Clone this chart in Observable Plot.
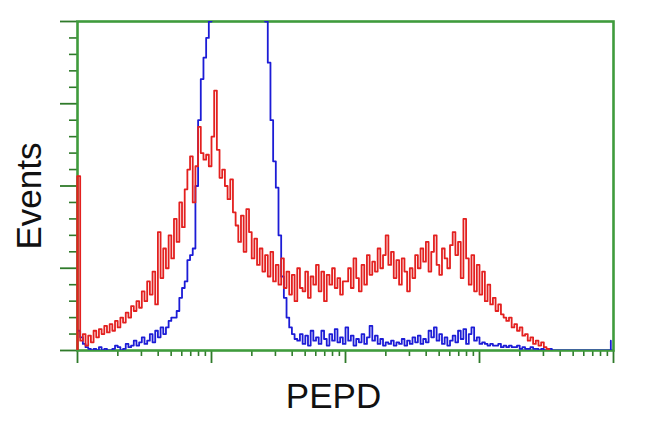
<!DOCTYPE html>
<html>
<head>
<meta charset="utf-8">
<script src="https://cdn.jsdelivr.net/npm/d3@7"></script>
<script src="https://cdn.jsdelivr.net/npm/@observablehq/plot@0.6"></script>
<style>
  html, body { margin: 0; padding: 0; background: #fff; }
  #chart { width: 650px; height: 432px; }
</style>
</head>
<body>
<div id="chart"></div>
<script>
// Histogram counts per channel (50 channels per decade, 4 decades)
const redCounts = [
  106, 6, 10, 3, 9, 5, 12, 8, 13, 10,
  15, 11, 16, 12, 18, 14, 20, 17, 23, 20,
  27, 24, 30, 26, 36, 30, 42, 34, 48, 28,
  72, 44, 62, 50, 70, 56, 80, 66, 90, 75,
  98, 110, 118, 90, 112, 136, 120, 116, 119, 112,
  130, 158, 122, 105, 110, 100, 92, 104, 84, 76,
  66, 82, 60, 86, 72, 56, 68, 52, 62, 48,
  58, 45, 60, 42, 52, 40, 56, 38, 48, 34,
  46, 30, 50, 38, 36, 48, 32, 45, 40, 52,
  36, 48, 30, 46, 40, 50, 38, 44, 34, 42,
  42, 50, 38, 56, 44, 36, 52, 40, 58, 46,
  54, 48, 62, 50, 58, 70, 52, 60, 44, 55,
  40, 56, 48, 36, 50, 44, 58, 50, 62, 54,
  66, 48, 60, 70, 52, 46, 62, 56, 50, 64,
  72, 58, 66, 44, 80, 56, 40, 58, 36, 52,
  34, 48, 30, 40, 28, 32, 24, 28, 22, 20,
  18, 20, 14, 16, 12, 14, 9, 10, 6, 8,
  4, 6, 3, 5, 2, 1, 0
];
const blueCounts = [
  12, 8, 4, 2, 1, 0, 1, 0, 2, 0,
  1, 0, 0, 1, 3, 2, 0, 1, 4, 2,
  3, 6, 3, 5, 8, 4, 6, 10, 5, 12,
  8, 14, 10, 14, 18, 20, 20, 24, 32, 38,
  42, 55, 58, 62, 100, 140, 165, 178, 190, 200,
  215, 235, 255, 270, 285, 295, 300, 305, 300, 295,
  290, 280, 270, 260, 250, 240, 230, 225, 215, 208,
  200, 175, 140, 115, 99, 70, 45, 32, 20, 14,
  10, 7, 6, 10, 4, 9, 3, 12, 6, 8,
  4, 12, 7, 3, 10, 6, 13, 5, 8, 4,
  14, 6, 9, 3, 7, 5, 10, 4, 8, 15,
  6, 9, 4, 7, 3, 5, 4, 6, 3, 5,
  4, 7, 3, 6, 4, 8, 5, 9, 4, 7,
  5, 12, 8, 14, 6, 10, 4, 8, 3, 6,
  9, 5, 12, 7, 13, 4, 10, 14, 6, 8,
  4, 5, 4, 3, 4, 3, 3, 4, 2, 3,
  2, 3, 2, 2, 3, 1, 2, 1, 1, 2,
  1, 1, 0, 1, 0, 0, 1, 0, 0, 0,
  0, 0, 0, 0, 0, 0, 0, 0, 0, 0,
  0, 0, 0, 0, 0, 0, 0, 0, 0, 6
];
const channelsPerDecade = 50;
const xMajorTicks = [1, 10, 100, 1000, 10000];
const xMinorTicks = [2,3,4,5,6,7,8,9, 20,30,40,50,60,70,80,90,
  200,300,400,500,600,700,800,900, 2000,3000,4000,5000,6000,7000,8000,9000];
const yMajorTicks = [0, 50, 100, 150, 200];
const yMinorTicks = [10,20,30,40, 60,70,80,90, 110,120,130,140, 160,170,180,190];
const xLabel = "PEPD";
const yLabel = "Events";

const RED = "#e3201f";
const BLUE = "#1c1cd6";
const GREEN = "#3f9b3c";
const TICK = "#2f7a2a";

const chX = (d, i) => Math.pow(10, i / channelsPerDecade);
const blank = () => "";

const chart = Plot.plot({
  width: 650,
  height: 432,
  marginLeft: 77,
  marginRight: 37,
  marginTop: 21,
  marginBottom: 82,
  x: {type: "log", domain: [1, 10000]},
  y: {domain: [0, 200]},
  style: {background: "#fff", fontFamily: "'Liberation Sans', Arial, sans-serif", color: "#111"},
  marks: [
    Plot.axisX(xMinorTicks, {tickSize: 6, tickFormat: blank, stroke: TICK, strokeWidth: 1.6, label: null}),
    Plot.axisX(xMajorTicks, {tickSize: 13, tickFormat: blank, stroke: TICK, strokeWidth: 1.8, label: null}),
    Plot.axisY(yMinorTicks, {tickSize: 8, tickFormat: blank, stroke: TICK, strokeWidth: 1.6, label: null}),
    Plot.axisY(yMajorTicks, {tickSize: 17, tickFormat: blank, stroke: TICK, strokeWidth: 1.8, label: null}),
    Plot.frame({stroke: GREEN, strokeWidth: 2.6}),
    Plot.line(blueCounts, {x: chX, y: d => d, curve: "step-after", stroke: BLUE, strokeWidth: 1.8, clip: true}),
    Plot.line(redCounts, {x: chX, y: d => d, curve: "step-after", stroke: RED, strokeWidth: 1.8, clip: true}),
    Plot.ruleX(redCounts.slice(0, 1), {x: 1, y1: 0, y2: d => d, stroke: RED, strokeWidth: 2.4}),
    Plot.text([yLabel], {frameAnchor: "left", dx: -37, dy: 10, rotate: -90, fontSize: 35, lineAnchor: "bottom", textAnchor: "middle", fill: "#111"}),
    Plot.text([xLabel], {frameAnchor: "bottom", dx: -12, dy: 57, fontSize: 35, lineAnchor: "bottom", textAnchor: "middle", fill: "#111"})
  ]
});
document.getElementById("chart").appendChild(chart);
</script>
</body>
</html>
